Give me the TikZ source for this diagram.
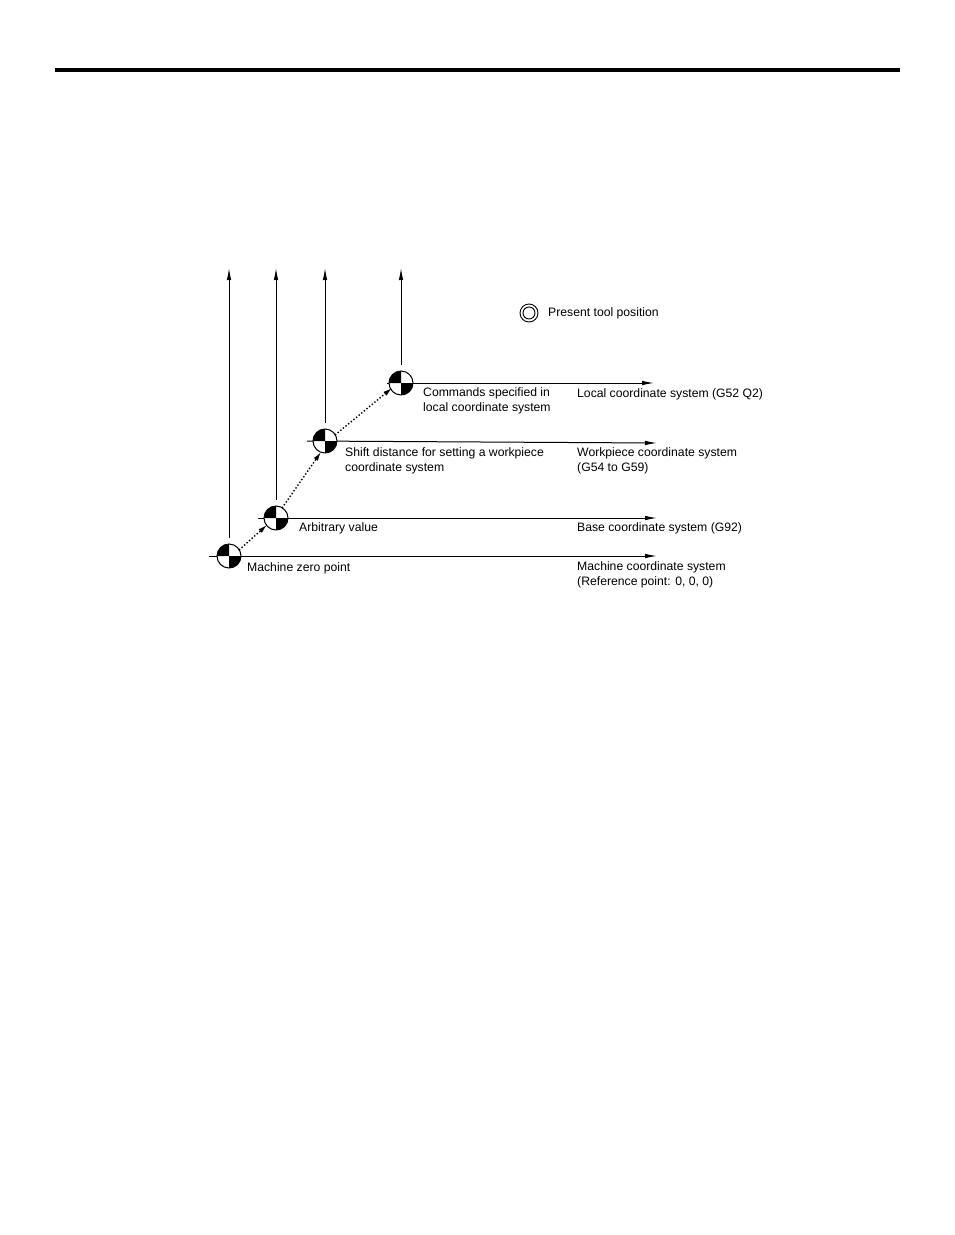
\documentclass[tikz,border=0pt]{standalone}
\usepackage{fontspec}
\setmainfont{Liberation Sans}
\usetikzlibrary{arrows.meta}
\begin{document}
\begin{tikzpicture}[x=1pt,y=-1pt,
  ax/.style={line width=1pt,-{Latex[length=12pt,width=4.5pt]}},
  lbl/.style={anchor=west,inner sep=0pt,font=\fontsize{12.2}{15}\selectfont,align=left},
  shiftarrow/.style={dotted,line width=1.4pt,-{Latex[length=9pt,width=5pt]}}]
\useasboundingbox (0,0) rectangle (954,1235);
\fill[white] (0,0) rectangle (954,1235);
\draw[line width=3.5pt] (55,70) -- (900,70);
\coordinate (m) at (229,556);
\coordinate (b) at (276,518);
\coordinate (w) at (325,441);
\coordinate (l) at (401,383);
\coordinate (mt) at (229,268); \coordinate (bt) at (276,268);
\coordinate (wt) at (325,268); \coordinate (lt) at (401,268);
\coordinate (me) at (657,556); \coordinate (be) at (657,518);
\coordinate (we) at (657,443); \coordinate (le) at (654,383);
\draw[ax] ([yshift=18]m) -- (mt);
\draw[ax] ([yshift=18]b) -- (bt);
\draw[ax] ([yshift=18]w) -- (wt);
\draw[ax] ([yshift=18]l) -- (lt);
\draw[ax] ([xshift=-20]m) -- (me);
\draw[ax] ([xshift=-18]b) -- (be);
\draw[ax] ([xshift=-18]w) -- (we);
\draw[ax] ([xshift=-14]l) -- (le);
\foreach \p in {m,b,w,l}{
  \fill[white] (\p) circle[radius=12];
  \fill (\p) -- ++(-12,0) arc[start angle=180,end angle=270,radius=12] -- cycle;
  \fill (\p) -- ++(12,0) arc[start angle=0,end angle=90,radius=12] -- cycle;
  \draw[line width=1pt] (\p) circle[radius=12];
}
\draw[shiftarrow] ([shift={(10,-6)}]m) -- ([shift={(-9,7)}]b);
\draw[shiftarrow] ([shift={(6,-10)}]b) -- ([shift={(-4,11)}]w);
\draw[shiftarrow] ([shift={(10,-6)}]w) -- ([shift={(-9,5)}]l);
\node[lbl] (t1) at (247,568) {Machine zero point};
\node[lbl] (t2) at (299,528) {Arbitrary value};
\node[lbl] (t3) at (345,461) {Shift distance for setting a workpiece\\coordinate system};
\node[lbl] (t4) at (423,401) {Commands specified in\\local coordinate system};
\node[lbl] (r1) at (577,394) {Local coordinate system (G52 Q2)};
\node[lbl] (r2) at (577,461) {Workpiece coordinate system\\(G54 to G59)};
\node[lbl] (r3) at (577,528) {Base coordinate system (G92)};
\node[lbl] (r4) at (577,575) {Machine coordinate system\\(Reference point: 0, 0, 0)};
\draw[line width=0.9pt] (529,313) circle[radius=9] (529,313) circle[radius=6];
\node[lbl] (pt) at (548,313) {Present tool position};
\end{tikzpicture}
\end{document}
